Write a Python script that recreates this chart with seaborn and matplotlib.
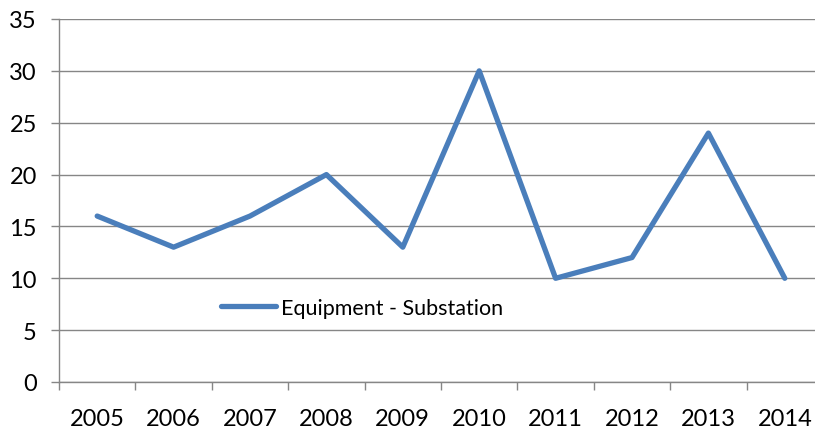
import matplotlib
matplotlib.use("Agg")
import matplotlib.pyplot as plt
import seaborn as sns
import pandas as pd
from matplotlib.ticker import FixedLocator, NullFormatter

years = ["2005", "2006", "2007", "2008", "2009", "2010", "2011", "2012", "2013", "2014"]
values = [16, 13, 16, 20, 13, 30, 10, 12, 24, 10]
series_name = "Equipment - Substation"
y_ticks = [0, 5, 10, 15, 20, 25, 30, 35]

df = pd.DataFrame({"year": years, "value": values, "series": series_name})

sns.set_theme(style="white")
plt.rcParams["font.family"] = ["Lato", "DejaVu Sans"]

W, H = 815, 431
fig = plt.figure(figsize=(W / 100, H / 100), dpi=100)
left, right, bottom, top = 59, 823, 383, 20
ax = fig.add_axes([left / W, (H - bottom) / H, (right - left) / W, (bottom - top) / H])

grid_col = "#868686"
line_col = "#4A7EBB"

sns.lineplot(data=df, x="year", y="value", hue="series", palette=[line_col],
             linewidth=3.8, ax=ax, sort=False)

ax.set_xlim(-0.5, len(years) - 0.5)
ax.set_ylim(0, 35)
ax.set_yticks(y_ticks)
ax.yaxis.grid(True, color=grid_col, linewidth=1.0)
ax.set_axisbelow(True)

ax.xaxis.set_major_locator(FixedLocator([i - 0.5 for i in range(len(years) + 1)]))
ax.xaxis.set_major_formatter(NullFormatter())
ax.xaxis.set_minor_locator(FixedLocator(list(range(len(years)))))
ax.set_xticklabels(years, minor=True)
ax.tick_params(axis="x", which="major", length=6, width=1, color=grid_col, direction="out", bottom=True)
ax.tick_params(axis="x", which="minor", length=0, pad=19, labelsize=17, labelcolor="black")
ax.tick_params(axis="y", length=6, width=1, color=grid_col, direction="out", left=True, pad=10,
               labelsize=17, labelcolor="black")

for s in ["top", "right"]:
    ax.spines[s].set_visible(False)
for s in ["left", "bottom"]:
    ax.spines[s].set_color(grid_col)
    ax.spines[s].set_linewidth(1.0)

ax.set_xlabel("")
ax.set_ylabel("")

leg = ax.legend(loc="center left", bbox_to_anchor=((221 - left) / (right - left), (bottom - 309) / (bottom - top)),
                frameon=False, fontsize=15.5, handlelength=2.55, handletextpad=0.25, borderpad=0, borderaxespad=0)
for t in leg.get_texts():
    t.set_color("black")

fig.savefig("out.png", dpi=100)
